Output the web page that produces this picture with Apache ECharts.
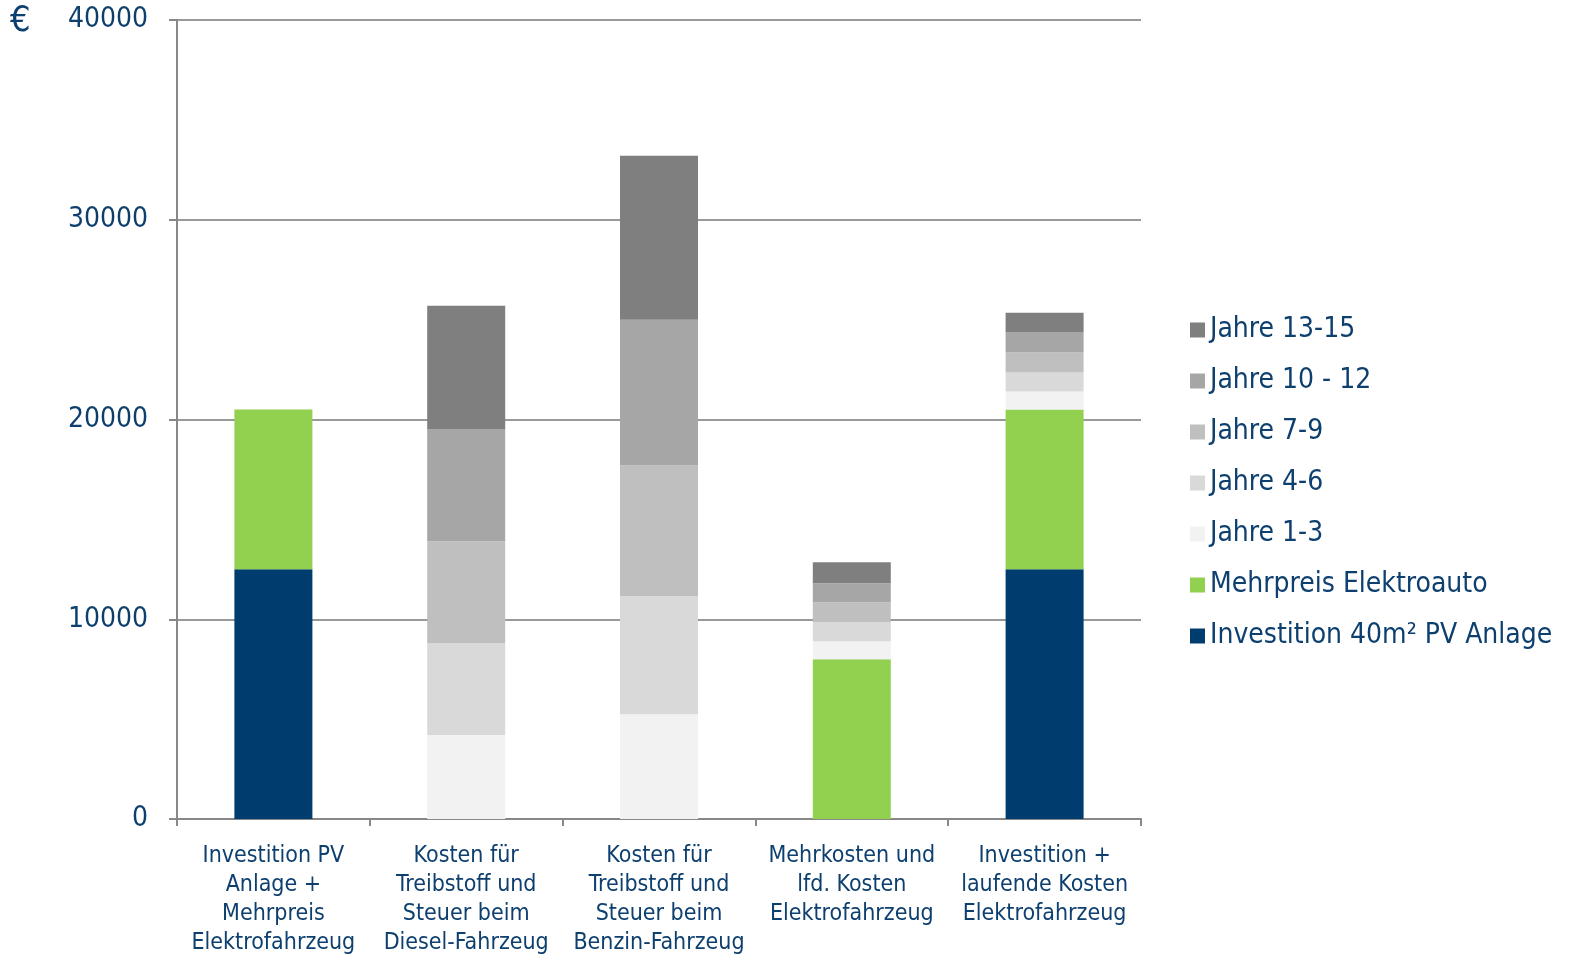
<!DOCTYPE html>
<html>
<head>
<meta charset="utf-8">
<script src="https://cdn.jsdelivr.net/npm/echarts@6/dist/echarts.min.js"></script>
<style>
  html, body { margin: 0; padding: 0; background: #fff; }
  #main { width: 1574px; height: 954px; }
</style>
</head>
<body>
<div id="main"></div>
<script>
var categories = [
  'Investition PV\nAnlage +\nMehrpreis\nElektrofahrzeug',
  'Kosten für\nTreibstoff und\nSteuer beim\nDiesel-Fahrzeug',
  'Kosten für\nTreibstoff und\nSteuer beim\nBenzin-Fahrzeug',
  'Mehrkosten und\nlfd. Kosten\nElektrofahrzeug',
  'Investition +\nlaufende Kosten\nElektrofahrzeug'
];
var yTicks = [0, 10000, 20000, 30000, 40000];

// Werte von unten nach oben gestapelt
var investPV   = [12500, 0, 0, 0, 12500];
var mehrpreis  = [8000, 0, 0, 8000, 8000];
var jahre1_3   = [0, 4200, 5250, 900, 900];
var jahre4_6   = [0, 4600, 5900, 950, 950];
var jahre7_9   = [0, 5100, 6550, 1000, 1000];
var jahre10_12 = [0, 5600, 7300, 950, 1000];
var jahre13_15 = [0, 6200, 8200, 1050, 1000];

var textColor = '#0d3f6f';
var fontFam = '"DejaVu Sans Condensed", "Liberation Sans", sans-serif';

var chart = echarts.init(document.getElementById('main'));

function bar(name, data, color) {
  return {
    name: name,
    type: 'bar',
    stack: 'total',
    barWidth: 78,
    itemStyle: { color: color },
    data: data
  };
}

var option = {
  animation: false,
  textStyle: { fontFamily: fontFam },
  grid: { left: 177, top: 20, right: 433, bottom: 135, outerBoundsMode: 'none', containLabel: false },
  legend: {
    orient: 'vertical',
    left: 1185,
    top: 311,
    itemWidth: 15,
    itemHeight: 15,
    itemGap: 23,
    icon: 'rect',
    textStyle: { color: textColor, fontSize: 28, fontFamily: fontFam },
    data: ['Jahre 13-15', 'Jahre 10 - 12', 'Jahre 7-9', 'Jahre 4-6', 'Jahre 1-3',
           'Mehrpreis Elektroauto', 'Investition 40m² PV Anlage']
  },
  graphic: [{
    type: 'text',
    left: 10,
    top: 4,
    style: { text: '€', fill: textColor, font: '36px ' + fontFam }
  }],
  xAxis: {
    type: 'category',
    data: categories,
    axisLine: { lineStyle: { color: '#888', width: 2 } },
    axisTick: { show: true, length: 7, lineStyle: { color: '#888', width: 2 } },
    axisLabel: {
      color: textColor,
      fontSize: 23,
      lineHeight: 29,
      margin: 23,
      interval: 0,
      fontFamily: fontFam
    }
  },
  yAxis: {
    type: 'value',
    min: yTicks[0],
    max: yTicks[yTicks.length - 1],
    interval: 10000,
    axisLine: { show: true, lineStyle: { color: '#888', width: 2 } },
    axisTick: { show: true, length: 8, lineStyle: { color: '#888', width: 2 } },
    axisLabel: {
      color: textColor, fontSize: 28, margin: 29, fontFamily: fontFam,
      formatter: function (v) { return String(v); }
    },
    splitLine: { lineStyle: { color: '#999', width: 2 } }
  },
  series: [
    bar('Investition 40m² PV Anlage', investPV, '#003d6e'),
    bar('Mehrpreis Elektroauto', mehrpreis, '#92d050'),
    bar('Jahre 1-3', jahre1_3, '#f2f2f2'),
    bar('Jahre 4-6', jahre4_6, '#d9d9d9'),
    bar('Jahre 7-9', jahre7_9, '#bfbfbf'),
    bar('Jahre 10 - 12', jahre10_12, '#a6a6a6'),
    bar('Jahre 13-15', jahre13_15, '#7f7f7f')
  ]
};

chart.setOption(option);
</script>
</body>
</html>
